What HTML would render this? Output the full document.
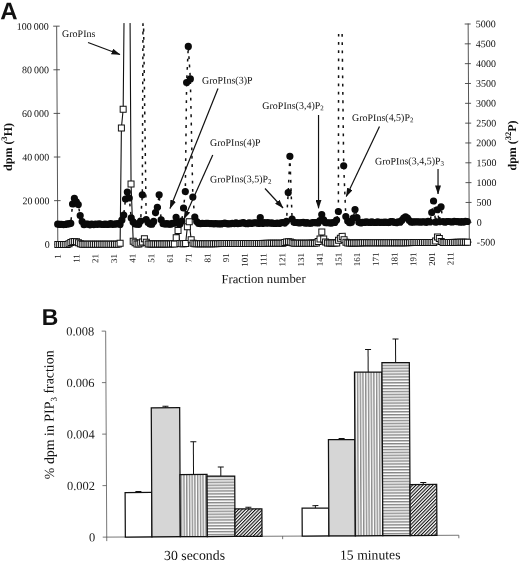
<!DOCTYPE html>
<html><head><meta charset="utf-8"><title>Figure</title>
<style>html,body{margin:0;padding:0;background:#fff}body{width:520px;height:563px;position:relative;overflow:hidden}</style>
</head><body>
<svg width="520" height="563" viewBox="0 0 520 563" style="position:absolute;left:0;top:0">
<defs>
<pattern id="pv" width="2.72" height="4" patternUnits="userSpaceOnUse"><rect width="2.72" height="4" fill="#fff"/><rect x="0.4" width="0.8" height="4" fill="#333"/></pattern>
<pattern id="ph" width="4" height="2.9" patternUnits="userSpaceOnUse"><rect width="4" height="2.9" fill="#fff"/><rect y="0.4" width="4" height="0.85" fill="#333"/></pattern>
<pattern id="pd" width="2.42" height="2.42" patternUnits="userSpaceOnUse" patternTransform="rotate(-45)"><rect width="2.42" height="2.42" fill="#fff"/><rect x="0" width="2.42" height="1.1" fill="#111"/></pattern>
<marker id="ah" markerWidth="9" markerHeight="6" refX="8.5" refY="3" orient="auto" markerUnits="userSpaceOnUse"><path d="M0,0 L9,3 L0,6 Z" fill="#111"/></marker>
</defs>
<rect width="520" height="563" fill="#fff"/>
<g transform="rotate(-0.3 260.0 281.0)">
<g stroke="#444" stroke-width="0.9" fill="none">
<line x1="58.0" y1="25.1" x2="58.0" y2="245.2"/>
<line x1="469.5" y1="24.6" x2="469.5" y2="243.2"/>
<line x1="54.5" y1="243.20" x2="61.0" y2="243.20"/>
<line x1="54.5" y1="199.58" x2="61.0" y2="199.58"/>
<line x1="54.5" y1="155.96" x2="61.0" y2="155.96"/>
<line x1="54.5" y1="112.34" x2="61.0" y2="112.34"/>
<line x1="54.5" y1="68.72" x2="61.0" y2="68.72"/>
<line x1="54.5" y1="25.10" x2="61.0" y2="25.10"/>
<line x1="466.0" y1="243.20" x2="472.0" y2="243.20"/>
<line x1="466.0" y1="223.37" x2="472.0" y2="223.37"/>
<line x1="466.0" y1="203.55" x2="472.0" y2="203.55"/>
<line x1="466.0" y1="183.72" x2="472.0" y2="183.72"/>
<line x1="466.0" y1="163.89" x2="472.0" y2="163.89"/>
<line x1="466.0" y1="144.06" x2="472.0" y2="144.06"/>
<line x1="466.0" y1="124.24" x2="472.0" y2="124.24"/>
<line x1="466.0" y1="104.41" x2="472.0" y2="104.41"/>
<line x1="466.0" y1="84.58" x2="472.0" y2="84.58"/>
<line x1="466.0" y1="64.75" x2="472.0" y2="64.75"/>
<line x1="466.0" y1="44.93" x2="472.0" y2="44.93"/>
<line x1="466.0" y1="25.10" x2="472.0" y2="25.10"/>
</g>
<polyline points="58.00,243.4 59.87,243.4 61.74,243.4 63.61,243.4 65.48,243.4 67.35,243.4 69.22,242.8 71.09,241.6 72.96,240.8 74.83,240.6 76.73,240.8 78.64,241.7 80.54,242.9 82.44,243.4 84.34,243.4 86.24,243.4 88.14,243.4 90.04,243.4 91.94,243.4 93.84,243.4 95.74,243.4 97.64,243.4 99.54,243.4 101.44,243.4 103.34,243.4 105.24,243.4 107.14,243.4 109.04,243.4 110.94,243.4 112.84,243.4 114.71,243.4 116.58,243.4 118.45,243.4 120.32,242.6 122.20,127.3 124.07,108.5 125.94,-17.7 127.81,-3000.6 129.68,-2500.6 131.55,183.3 133.42,240.6 135.29,242.1 137.16,243.4 139.03,243.4 140.90,242.4 142.77,241.4 144.64,238.2 146.51,241.6 148.38,243.4 150.25,243.4 152.12,243.4 153.99,243.4 155.86,243.4 157.73,243.4 159.60,243.4 161.47,243.4 163.35,243.4 165.22,243.4 167.09,243.4 168.96,243.4 170.83,243.4 172.70,243.4 174.57,243.6 176.44,237.2 178.31,230.1 180.18,243.1 182.05,243.4 183.92,243.4 185.79,243.2 187.66,226.4 189.53,221.4 191.40,239.4 193.27,243.0 195.14,243.4 197.01,243.4 198.88,243.4 200.75,243.4 202.62,243.4 204.50,243.4 206.37,243.4 208.24,243.4 210.11,243.4 211.98,243.4 213.85,243.4 215.72,243.4 217.59,243.4 219.46,243.4 221.33,243.4 223.20,243.4 225.07,243.4 226.94,243.4 228.81,243.4 230.68,243.4 232.55,243.4 234.42,243.4 236.29,243.4 238.16,243.4 240.03,243.4 241.90,243.4 243.77,243.4 245.65,243.4 247.52,243.4 249.39,243.4 251.26,243.4 253.13,243.4 255.00,243.4 256.87,243.4 258.74,243.4 260.61,243.4 262.48,243.4 264.35,243.4 266.22,243.4 268.09,243.4 269.96,243.4 271.83,243.4 273.70,243.4 275.57,243.4 277.44,243.4 279.31,243.4 281.18,243.4 283.05,243.4 284.93,242.7 286.80,242.1 288.67,242.0 290.54,242.2 292.41,242.9 294.28,243.4 296.15,243.4 298.02,243.4 299.89,243.4 301.74,243.4 303.59,243.4 305.44,243.4 307.29,243.4 309.14,243.4 310.99,243.4 312.84,243.4 314.69,243.4 316.54,243.4 318.39,241.9 320.24,239.3 322.09,232.3 323.94,239.3 325.79,242.3 327.65,243.4 329.50,243.4 331.35,243.4 333.20,243.4 335.05,243.4 336.90,243.4 338.75,240.6 340.60,238.6 342.45,236.8 344.30,240.2 346.15,242.8 348.00,243.4 349.85,243.4 351.70,243.4 353.55,243.4 355.40,243.4 357.27,243.4 359.14,243.4 361.01,243.4 362.88,243.4 364.75,243.4 366.62,243.4 368.50,243.4 370.37,243.4 372.24,243.4 374.11,243.4 375.98,243.4 377.85,243.4 379.72,243.4 381.59,243.4 383.46,243.4 385.33,243.4 387.20,243.4 389.07,243.4 390.94,243.4 392.81,243.4 394.68,243.4 396.55,243.4 398.42,243.4 400.29,243.4 402.16,243.4 404.03,243.4 405.90,243.4 407.77,243.4 409.65,243.4 411.52,243.4 413.39,243.4 415.26,243.4 417.13,243.4 419.00,243.4 420.87,243.4 422.74,243.4 424.61,243.4 426.48,243.4 428.35,243.4 430.22,243.4 432.09,243.4 433.96,243.4 435.83,241.9 437.70,237.9 439.57,239.4 441.44,242.5 443.31,243.4 445.18,243.4 447.05,243.4 448.92,243.4 450.80,243.4 452.67,243.4 454.54,243.4 456.41,243.4 458.28,243.4 460.15,243.4 462.02,243.4 463.89,243.4 465.76,243.4 467.63,243.4" fill="none" stroke="#111" stroke-width="1.1"/>
<polyline points="58.00,223.1 59.87,223.4 61.74,223.2 63.61,223.5 65.48,223.5 67.35,222.9 69.22,222.8 71.09,222.3 72.96,203.0 74.83,197.5 76.73,201.0 78.64,203.6 80.54,214.6 82.44,220.6 84.34,223.7 86.24,223.1 88.14,223.1 90.04,223.9 91.94,223.3 93.84,223.7 95.74,223.3 97.64,223.5 99.54,223.0 101.44,223.5 103.34,223.7 105.24,223.4 107.14,223.6 109.04,223.5 110.94,222.8 112.84,223.6 114.71,223.4 116.58,223.1 118.45,222.8 120.32,223.7 122.20,219.3 124.07,214.3 125.94,198.3 127.81,191.3 129.68,197.3 131.55,217.3 133.42,221.3 135.29,223.3 137.16,223.5 139.03,223.7 140.90,220.4 142.77,194.2 144.64,-10.6 146.51,219.0 148.38,221.9 150.25,223.5 152.12,223.7 153.99,220.9 155.86,212.0 157.73,206.8 159.60,194.3 161.47,219.3 163.35,223.1 165.22,223.6 167.09,223.2 168.96,223.7 170.83,223.7 172.70,222.8 174.57,222.8 176.44,216.9 178.31,222.9 180.18,223.7 182.05,220.6 183.92,207.6 185.79,191.2 187.66,82.1 189.53,46.1 191.40,78.6 193.27,196.7 195.14,216.7 197.01,221.2 198.88,223.1 200.75,223.3 202.62,223.0 204.50,223.2 206.37,223.1 208.24,223.0 210.11,223.3 211.98,223.3 213.85,223.6 215.72,223.4 217.59,223.6 219.46,223.6 221.33,223.7 223.20,223.3 225.07,222.8 226.94,223.5 228.81,223.7 230.68,223.6 232.55,223.2 234.42,223.4 236.29,222.8 238.16,223.5 240.03,223.2 241.90,222.9 243.77,222.6 245.65,223.5 247.52,223.7 249.39,222.7 251.26,223.4 253.13,223.0 255.00,222.7 256.87,222.9 258.74,223.4 260.61,217.5 262.48,223.5 264.35,222.6 266.22,223.2 268.09,222.6 269.96,223.3 271.83,222.9 273.70,223.5 275.57,223.6 277.44,223.1 279.31,223.6 281.18,222.9 283.05,222.6 284.93,223.2 286.80,221.4 288.67,192.7 290.54,156.5 292.41,219.2 294.28,222.5 296.15,222.7 298.02,222.9 299.89,223.2 301.74,222.7 303.59,222.5 305.44,223.4 307.29,222.8 309.14,223.5 310.99,223.5 312.84,222.9 314.69,223.0 316.54,223.0 318.39,223.2 320.24,220.8 322.09,214.9 323.94,220.3 325.79,223.1 327.65,223.1 329.50,223.1 331.35,223.5 333.20,223.0 335.05,222.9 336.90,220.4 338.75,211.9 340.60,-67.6 342.45,-109.6 344.30,166.2 346.15,217.0 348.00,221.5 349.85,223.2 351.70,222.7 353.55,218.5 355.40,210.0 357.27,218.0 359.14,222.7 361.01,223.5 362.88,223.0 364.75,223.0 366.62,222.4 368.50,222.9 370.37,223.0 372.24,222.4 374.11,223.1 375.98,223.1 377.85,222.4 379.72,223.1 381.59,222.9 383.46,223.1 385.33,222.8 387.20,223.1 389.07,223.2 390.94,222.4 392.81,222.4 394.68,223.1 396.55,223.4 398.42,222.6 400.29,222.9 402.16,221.0 404.03,218.8 405.90,217.6 407.77,218.8 409.65,221.3 411.52,223.0 413.39,222.7 415.26,222.7 417.13,222.7 419.00,222.7 420.87,223.0 422.74,222.6 424.61,222.7 426.48,223.2 428.35,222.3 430.22,222.9 432.09,213.4 433.96,201.9 435.83,223.1 437.70,210.7 439.57,222.6 441.44,207.8 443.31,222.5 445.18,223.2 447.05,222.5 448.92,222.5 450.80,222.8 452.67,223.0 454.54,222.4 456.41,222.6 458.28,222.6 460.15,223.2 462.02,222.7 463.89,223.2 465.76,222.4 467.63,222.6" fill="none" stroke="#111" stroke-width="1.5" stroke-dasharray="2.8 5.5"/>
<g fill="#fff" stroke="#111" stroke-width="1">
<rect x="55.00" y="240.4" width="6" height="6"/>
<rect x="56.87" y="240.4" width="6" height="6"/>
<rect x="58.74" y="240.4" width="6" height="6"/>
<rect x="60.61" y="240.4" width="6" height="6"/>
<rect x="62.48" y="240.4" width="6" height="6"/>
<rect x="64.35" y="240.4" width="6" height="6"/>
<rect x="66.22" y="239.8" width="6" height="6"/>
<rect x="68.09" y="238.6" width="6" height="6"/>
<rect x="69.96" y="237.8" width="6" height="6"/>
<rect x="71.83" y="237.6" width="6" height="6"/>
<rect x="73.73" y="237.8" width="6" height="6"/>
<rect x="75.64" y="238.7" width="6" height="6"/>
<rect x="77.54" y="239.9" width="6" height="6"/>
<rect x="79.44" y="240.4" width="6" height="6"/>
<rect x="81.34" y="240.4" width="6" height="6"/>
<rect x="83.24" y="240.4" width="6" height="6"/>
<rect x="85.14" y="240.4" width="6" height="6"/>
<rect x="87.04" y="240.4" width="6" height="6"/>
<rect x="88.94" y="240.4" width="6" height="6"/>
<rect x="90.84" y="240.4" width="6" height="6"/>
<rect x="92.74" y="240.4" width="6" height="6"/>
<rect x="94.64" y="240.4" width="6" height="6"/>
<rect x="96.54" y="240.4" width="6" height="6"/>
<rect x="98.44" y="240.4" width="6" height="6"/>
<rect x="100.34" y="240.4" width="6" height="6"/>
<rect x="102.24" y="240.4" width="6" height="6"/>
<rect x="104.14" y="240.4" width="6" height="6"/>
<rect x="106.04" y="240.4" width="6" height="6"/>
<rect x="107.94" y="240.4" width="6" height="6"/>
<rect x="109.84" y="240.4" width="6" height="6"/>
<rect x="111.71" y="240.4" width="6" height="6"/>
<rect x="113.58" y="240.4" width="6" height="6"/>
<rect x="115.45" y="240.4" width="6" height="6"/>
<rect x="117.32" y="239.6" width="6" height="6"/>
<rect x="119.20" y="124.3" width="6" height="6"/>
<rect x="121.07" y="105.5" width="6" height="6"/>
<rect x="128.55" y="180.3" width="6" height="6"/>
<rect x="130.42" y="237.6" width="6" height="6"/>
<rect x="132.29" y="239.1" width="6" height="6"/>
<rect x="134.16" y="240.4" width="6" height="6"/>
<rect x="136.03" y="240.4" width="6" height="6"/>
<rect x="137.90" y="239.4" width="6" height="6"/>
<rect x="139.77" y="238.4" width="6" height="6"/>
<rect x="141.64" y="235.2" width="6" height="6"/>
<rect x="143.51" y="238.6" width="6" height="6"/>
<rect x="145.38" y="240.4" width="6" height="6"/>
<rect x="147.25" y="240.4" width="6" height="6"/>
<rect x="149.12" y="240.4" width="6" height="6"/>
<rect x="150.99" y="240.4" width="6" height="6"/>
<rect x="152.86" y="240.4" width="6" height="6"/>
<rect x="154.73" y="240.4" width="6" height="6"/>
<rect x="156.60" y="240.4" width="6" height="6"/>
<rect x="158.47" y="240.4" width="6" height="6"/>
<rect x="160.35" y="240.4" width="6" height="6"/>
<rect x="162.22" y="240.4" width="6" height="6"/>
<rect x="164.09" y="240.4" width="6" height="6"/>
<rect x="165.96" y="240.4" width="6" height="6"/>
<rect x="167.83" y="240.4" width="6" height="6"/>
<rect x="169.70" y="240.4" width="6" height="6"/>
<rect x="171.57" y="240.6" width="6" height="6"/>
<rect x="173.44" y="234.2" width="6" height="6"/>
<rect x="175.31" y="227.1" width="6" height="6"/>
<rect x="177.18" y="240.1" width="6" height="6"/>
<rect x="179.05" y="240.4" width="6" height="6"/>
<rect x="180.92" y="240.4" width="6" height="6"/>
<rect x="182.79" y="240.2" width="6" height="6"/>
<rect x="184.66" y="223.4" width="6" height="6"/>
<rect x="186.53" y="218.4" width="6" height="6"/>
<rect x="188.40" y="236.4" width="6" height="6"/>
<rect x="190.27" y="240.0" width="6" height="6"/>
<rect x="192.14" y="240.4" width="6" height="6"/>
<rect x="194.01" y="240.4" width="6" height="6"/>
<rect x="195.88" y="240.4" width="6" height="6"/>
<rect x="197.75" y="240.4" width="6" height="6"/>
<rect x="199.62" y="240.4" width="6" height="6"/>
<rect x="201.50" y="240.4" width="6" height="6"/>
<rect x="203.37" y="240.4" width="6" height="6"/>
<rect x="205.24" y="240.4" width="6" height="6"/>
<rect x="207.11" y="240.4" width="6" height="6"/>
<rect x="208.98" y="240.4" width="6" height="6"/>
<rect x="210.85" y="240.4" width="6" height="6"/>
<rect x="212.72" y="240.4" width="6" height="6"/>
<rect x="214.59" y="240.4" width="6" height="6"/>
<rect x="216.46" y="240.4" width="6" height="6"/>
<rect x="218.33" y="240.4" width="6" height="6"/>
<rect x="220.20" y="240.4" width="6" height="6"/>
<rect x="222.07" y="240.4" width="6" height="6"/>
<rect x="223.94" y="240.4" width="6" height="6"/>
<rect x="225.81" y="240.4" width="6" height="6"/>
<rect x="227.68" y="240.4" width="6" height="6"/>
<rect x="229.55" y="240.4" width="6" height="6"/>
<rect x="231.42" y="240.4" width="6" height="6"/>
<rect x="233.29" y="240.4" width="6" height="6"/>
<rect x="235.16" y="240.4" width="6" height="6"/>
<rect x="237.03" y="240.4" width="6" height="6"/>
<rect x="238.90" y="240.4" width="6" height="6"/>
<rect x="240.77" y="240.4" width="6" height="6"/>
<rect x="242.65" y="240.4" width="6" height="6"/>
<rect x="244.52" y="240.4" width="6" height="6"/>
<rect x="246.39" y="240.4" width="6" height="6"/>
<rect x="248.26" y="240.4" width="6" height="6"/>
<rect x="250.13" y="240.4" width="6" height="6"/>
<rect x="252.00" y="240.4" width="6" height="6"/>
<rect x="253.87" y="240.4" width="6" height="6"/>
<rect x="255.74" y="240.4" width="6" height="6"/>
<rect x="257.61" y="240.4" width="6" height="6"/>
<rect x="259.48" y="240.4" width="6" height="6"/>
<rect x="261.35" y="240.4" width="6" height="6"/>
<rect x="263.22" y="240.4" width="6" height="6"/>
<rect x="265.09" y="240.4" width="6" height="6"/>
<rect x="266.96" y="240.4" width="6" height="6"/>
<rect x="268.83" y="240.4" width="6" height="6"/>
<rect x="270.70" y="240.4" width="6" height="6"/>
<rect x="272.57" y="240.4" width="6" height="6"/>
<rect x="274.44" y="240.4" width="6" height="6"/>
<rect x="276.31" y="240.4" width="6" height="6"/>
<rect x="278.18" y="240.4" width="6" height="6"/>
<rect x="280.05" y="240.4" width="6" height="6"/>
<rect x="281.93" y="239.7" width="6" height="6"/>
<rect x="283.80" y="239.1" width="6" height="6"/>
<rect x="285.67" y="239.0" width="6" height="6"/>
<rect x="287.54" y="239.2" width="6" height="6"/>
<rect x="289.41" y="239.9" width="6" height="6"/>
<rect x="291.28" y="240.4" width="6" height="6"/>
<rect x="293.15" y="240.4" width="6" height="6"/>
<rect x="295.02" y="240.4" width="6" height="6"/>
<rect x="296.89" y="240.4" width="6" height="6"/>
<rect x="298.74" y="240.4" width="6" height="6"/>
<rect x="300.59" y="240.4" width="6" height="6"/>
<rect x="302.44" y="240.4" width="6" height="6"/>
<rect x="304.29" y="240.4" width="6" height="6"/>
<rect x="306.14" y="240.4" width="6" height="6"/>
<rect x="307.99" y="240.4" width="6" height="6"/>
<rect x="309.84" y="240.4" width="6" height="6"/>
<rect x="311.69" y="240.4" width="6" height="6"/>
<rect x="313.54" y="240.4" width="6" height="6"/>
<rect x="315.39" y="238.9" width="6" height="6"/>
<rect x="317.24" y="236.3" width="6" height="6"/>
<rect x="319.09" y="229.3" width="6" height="6"/>
<rect x="320.94" y="236.3" width="6" height="6"/>
<rect x="322.79" y="239.3" width="6" height="6"/>
<rect x="324.65" y="240.4" width="6" height="6"/>
<rect x="326.50" y="240.4" width="6" height="6"/>
<rect x="328.35" y="240.4" width="6" height="6"/>
<rect x="330.20" y="240.4" width="6" height="6"/>
<rect x="332.05" y="240.4" width="6" height="6"/>
<rect x="333.90" y="240.4" width="6" height="6"/>
<rect x="335.75" y="237.6" width="6" height="6"/>
<rect x="337.60" y="235.6" width="6" height="6"/>
<rect x="339.45" y="233.8" width="6" height="6"/>
<rect x="341.30" y="237.2" width="6" height="6"/>
<rect x="343.15" y="239.8" width="6" height="6"/>
<rect x="345.00" y="240.4" width="6" height="6"/>
<rect x="346.85" y="240.4" width="6" height="6"/>
<rect x="348.70" y="240.4" width="6" height="6"/>
<rect x="350.55" y="240.4" width="6" height="6"/>
<rect x="352.40" y="240.4" width="6" height="6"/>
<rect x="354.27" y="240.4" width="6" height="6"/>
<rect x="356.14" y="240.4" width="6" height="6"/>
<rect x="358.01" y="240.4" width="6" height="6"/>
<rect x="359.88" y="240.4" width="6" height="6"/>
<rect x="361.75" y="240.4" width="6" height="6"/>
<rect x="363.62" y="240.4" width="6" height="6"/>
<rect x="365.50" y="240.4" width="6" height="6"/>
<rect x="367.37" y="240.4" width="6" height="6"/>
<rect x="369.24" y="240.4" width="6" height="6"/>
<rect x="371.11" y="240.4" width="6" height="6"/>
<rect x="372.98" y="240.4" width="6" height="6"/>
<rect x="374.85" y="240.4" width="6" height="6"/>
<rect x="376.72" y="240.4" width="6" height="6"/>
<rect x="378.59" y="240.4" width="6" height="6"/>
<rect x="380.46" y="240.4" width="6" height="6"/>
<rect x="382.33" y="240.4" width="6" height="6"/>
<rect x="384.20" y="240.4" width="6" height="6"/>
<rect x="386.07" y="240.4" width="6" height="6"/>
<rect x="387.94" y="240.4" width="6" height="6"/>
<rect x="389.81" y="240.4" width="6" height="6"/>
<rect x="391.68" y="240.4" width="6" height="6"/>
<rect x="393.55" y="240.4" width="6" height="6"/>
<rect x="395.42" y="240.4" width="6" height="6"/>
<rect x="397.29" y="240.4" width="6" height="6"/>
<rect x="399.16" y="240.4" width="6" height="6"/>
<rect x="401.03" y="240.4" width="6" height="6"/>
<rect x="402.90" y="240.4" width="6" height="6"/>
<rect x="404.77" y="240.4" width="6" height="6"/>
<rect x="406.65" y="240.4" width="6" height="6"/>
<rect x="408.52" y="240.4" width="6" height="6"/>
<rect x="410.39" y="240.4" width="6" height="6"/>
<rect x="412.26" y="240.4" width="6" height="6"/>
<rect x="414.13" y="240.4" width="6" height="6"/>
<rect x="416.00" y="240.4" width="6" height="6"/>
<rect x="417.87" y="240.4" width="6" height="6"/>
<rect x="419.74" y="240.4" width="6" height="6"/>
<rect x="421.61" y="240.4" width="6" height="6"/>
<rect x="423.48" y="240.4" width="6" height="6"/>
<rect x="425.35" y="240.4" width="6" height="6"/>
<rect x="427.22" y="240.4" width="6" height="6"/>
<rect x="429.09" y="240.4" width="6" height="6"/>
<rect x="430.96" y="240.4" width="6" height="6"/>
<rect x="432.83" y="238.9" width="6" height="6"/>
<rect x="434.70" y="234.9" width="6" height="6"/>
<rect x="436.57" y="236.4" width="6" height="6"/>
<rect x="438.44" y="239.5" width="6" height="6"/>
<rect x="440.31" y="240.4" width="6" height="6"/>
<rect x="442.18" y="240.4" width="6" height="6"/>
<rect x="444.05" y="240.4" width="6" height="6"/>
<rect x="445.92" y="240.4" width="6" height="6"/>
<rect x="447.80" y="240.4" width="6" height="6"/>
<rect x="449.67" y="240.4" width="6" height="6"/>
<rect x="451.54" y="240.4" width="6" height="6"/>
<rect x="453.41" y="240.4" width="6" height="6"/>
<rect x="455.28" y="240.4" width="6" height="6"/>
<rect x="457.15" y="240.4" width="6" height="6"/>
<rect x="459.02" y="240.4" width="6" height="6"/>
<rect x="460.89" y="240.4" width="6" height="6"/>
<rect x="462.76" y="240.4" width="6" height="6"/>
<rect x="464.63" y="240.4" width="6" height="6"/>
</g>
<g fill="#0a0a0a">
<circle cx="58.00" cy="223.1" r="3.6"/>
<circle cx="59.87" cy="223.4" r="3.6"/>
<circle cx="61.74" cy="223.2" r="3.6"/>
<circle cx="63.61" cy="223.5" r="3.6"/>
<circle cx="65.48" cy="223.5" r="3.6"/>
<circle cx="67.35" cy="222.9" r="3.6"/>
<circle cx="69.22" cy="222.8" r="3.6"/>
<circle cx="71.09" cy="222.3" r="3.6"/>
<circle cx="72.96" cy="203.0" r="3.6"/>
<circle cx="74.83" cy="197.5" r="3.6"/>
<circle cx="76.73" cy="201.0" r="3.6"/>
<circle cx="78.64" cy="203.6" r="3.6"/>
<circle cx="80.54" cy="214.6" r="3.6"/>
<circle cx="82.44" cy="220.6" r="3.6"/>
<circle cx="84.34" cy="223.7" r="3.6"/>
<circle cx="86.24" cy="223.1" r="3.6"/>
<circle cx="88.14" cy="223.1" r="3.6"/>
<circle cx="90.04" cy="223.9" r="3.6"/>
<circle cx="91.94" cy="223.3" r="3.6"/>
<circle cx="93.84" cy="223.7" r="3.6"/>
<circle cx="95.74" cy="223.3" r="3.6"/>
<circle cx="97.64" cy="223.5" r="3.6"/>
<circle cx="99.54" cy="223.0" r="3.6"/>
<circle cx="101.44" cy="223.5" r="3.6"/>
<circle cx="103.34" cy="223.7" r="3.6"/>
<circle cx="105.24" cy="223.4" r="3.6"/>
<circle cx="107.14" cy="223.6" r="3.6"/>
<circle cx="109.04" cy="223.5" r="3.6"/>
<circle cx="110.94" cy="222.8" r="3.6"/>
<circle cx="112.84" cy="223.6" r="3.6"/>
<circle cx="114.71" cy="223.4" r="3.6"/>
<circle cx="116.58" cy="223.1" r="3.6"/>
<circle cx="118.45" cy="222.8" r="3.6"/>
<circle cx="120.32" cy="223.7" r="3.6"/>
<circle cx="122.20" cy="219.3" r="3.6"/>
<circle cx="124.07" cy="214.3" r="3.6"/>
<circle cx="125.94" cy="198.3" r="3.6"/>
<circle cx="127.81" cy="191.3" r="3.6"/>
<circle cx="129.68" cy="197.3" r="3.6"/>
<circle cx="131.55" cy="217.3" r="3.6"/>
<circle cx="133.42" cy="221.3" r="3.6"/>
<circle cx="135.29" cy="223.3" r="3.6"/>
<circle cx="137.16" cy="223.5" r="3.6"/>
<circle cx="139.03" cy="223.7" r="3.6"/>
<circle cx="140.90" cy="220.4" r="3.6"/>
<circle cx="142.77" cy="194.2" r="3.6"/>
<circle cx="146.51" cy="219.0" r="3.6"/>
<circle cx="148.38" cy="221.9" r="3.6"/>
<circle cx="150.25" cy="223.5" r="3.6"/>
<circle cx="152.12" cy="223.7" r="3.6"/>
<circle cx="153.99" cy="220.9" r="3.6"/>
<circle cx="155.86" cy="212.0" r="3.6"/>
<circle cx="157.73" cy="206.8" r="3.6"/>
<circle cx="159.60" cy="194.3" r="3.6"/>
<circle cx="161.47" cy="219.3" r="3.6"/>
<circle cx="163.35" cy="223.1" r="3.6"/>
<circle cx="165.22" cy="223.6" r="3.6"/>
<circle cx="167.09" cy="223.2" r="3.6"/>
<circle cx="168.96" cy="223.7" r="3.6"/>
<circle cx="170.83" cy="223.7" r="3.6"/>
<circle cx="172.70" cy="222.8" r="3.6"/>
<circle cx="174.57" cy="222.8" r="3.6"/>
<circle cx="176.44" cy="216.9" r="3.6"/>
<circle cx="178.31" cy="222.9" r="3.6"/>
<circle cx="180.18" cy="223.7" r="3.6"/>
<circle cx="182.05" cy="220.6" r="3.6"/>
<circle cx="183.92" cy="207.6" r="3.6"/>
<circle cx="185.79" cy="191.2" r="3.6"/>
<circle cx="187.66" cy="82.1" r="3.6"/>
<circle cx="189.53" cy="46.1" r="3.6"/>
<circle cx="191.40" cy="78.6" r="3.6"/>
<circle cx="193.27" cy="196.7" r="3.6"/>
<circle cx="195.14" cy="216.7" r="3.6"/>
<circle cx="197.01" cy="221.2" r="3.6"/>
<circle cx="198.88" cy="223.1" r="3.6"/>
<circle cx="200.75" cy="223.3" r="3.6"/>
<circle cx="202.62" cy="223.0" r="3.6"/>
<circle cx="204.50" cy="223.2" r="3.6"/>
<circle cx="206.37" cy="223.1" r="3.6"/>
<circle cx="208.24" cy="223.0" r="3.6"/>
<circle cx="210.11" cy="223.3" r="3.6"/>
<circle cx="211.98" cy="223.3" r="3.6"/>
<circle cx="213.85" cy="223.6" r="3.6"/>
<circle cx="215.72" cy="223.4" r="3.6"/>
<circle cx="217.59" cy="223.6" r="3.6"/>
<circle cx="219.46" cy="223.6" r="3.6"/>
<circle cx="221.33" cy="223.7" r="3.6"/>
<circle cx="223.20" cy="223.3" r="3.6"/>
<circle cx="225.07" cy="222.8" r="3.6"/>
<circle cx="226.94" cy="223.5" r="3.6"/>
<circle cx="228.81" cy="223.7" r="3.6"/>
<circle cx="230.68" cy="223.6" r="3.6"/>
<circle cx="232.55" cy="223.2" r="3.6"/>
<circle cx="234.42" cy="223.4" r="3.6"/>
<circle cx="236.29" cy="222.8" r="3.6"/>
<circle cx="238.16" cy="223.5" r="3.6"/>
<circle cx="240.03" cy="223.2" r="3.6"/>
<circle cx="241.90" cy="222.9" r="3.6"/>
<circle cx="243.77" cy="222.6" r="3.6"/>
<circle cx="245.65" cy="223.5" r="3.6"/>
<circle cx="247.52" cy="223.7" r="3.6"/>
<circle cx="249.39" cy="222.7" r="3.6"/>
<circle cx="251.26" cy="223.4" r="3.6"/>
<circle cx="253.13" cy="223.0" r="3.6"/>
<circle cx="255.00" cy="222.7" r="3.6"/>
<circle cx="256.87" cy="222.9" r="3.6"/>
<circle cx="258.74" cy="223.4" r="3.6"/>
<circle cx="260.61" cy="217.5" r="3.6"/>
<circle cx="262.48" cy="223.5" r="3.6"/>
<circle cx="264.35" cy="222.6" r="3.6"/>
<circle cx="266.22" cy="223.2" r="3.6"/>
<circle cx="268.09" cy="222.6" r="3.6"/>
<circle cx="269.96" cy="223.3" r="3.6"/>
<circle cx="271.83" cy="222.9" r="3.6"/>
<circle cx="273.70" cy="223.5" r="3.6"/>
<circle cx="275.57" cy="223.6" r="3.6"/>
<circle cx="277.44" cy="223.1" r="3.6"/>
<circle cx="279.31" cy="223.6" r="3.6"/>
<circle cx="281.18" cy="222.9" r="3.6"/>
<circle cx="283.05" cy="222.6" r="3.6"/>
<circle cx="284.93" cy="223.2" r="3.6"/>
<circle cx="286.80" cy="221.4" r="3.6"/>
<circle cx="288.67" cy="192.7" r="3.6"/>
<circle cx="290.54" cy="156.5" r="3.6"/>
<circle cx="292.41" cy="219.2" r="3.6"/>
<circle cx="294.28" cy="222.5" r="3.6"/>
<circle cx="296.15" cy="222.7" r="3.6"/>
<circle cx="298.02" cy="222.9" r="3.6"/>
<circle cx="299.89" cy="223.2" r="3.6"/>
<circle cx="301.74" cy="222.7" r="3.6"/>
<circle cx="303.59" cy="222.5" r="3.6"/>
<circle cx="305.44" cy="223.4" r="3.6"/>
<circle cx="307.29" cy="222.8" r="3.6"/>
<circle cx="309.14" cy="223.5" r="3.6"/>
<circle cx="310.99" cy="223.5" r="3.6"/>
<circle cx="312.84" cy="222.9" r="3.6"/>
<circle cx="314.69" cy="223.0" r="3.6"/>
<circle cx="316.54" cy="223.0" r="3.6"/>
<circle cx="318.39" cy="223.2" r="3.6"/>
<circle cx="320.24" cy="220.8" r="3.6"/>
<circle cx="322.09" cy="214.9" r="3.6"/>
<circle cx="323.94" cy="220.3" r="3.6"/>
<circle cx="325.79" cy="223.1" r="3.6"/>
<circle cx="327.65" cy="223.1" r="3.6"/>
<circle cx="329.50" cy="223.1" r="3.6"/>
<circle cx="331.35" cy="223.5" r="3.6"/>
<circle cx="333.20" cy="223.0" r="3.6"/>
<circle cx="335.05" cy="222.9" r="3.6"/>
<circle cx="336.90" cy="220.4" r="3.6"/>
<circle cx="338.75" cy="211.9" r="3.6"/>
<circle cx="344.30" cy="166.2" r="3.6"/>
<circle cx="346.15" cy="217.0" r="3.6"/>
<circle cx="348.00" cy="221.5" r="3.6"/>
<circle cx="349.85" cy="223.2" r="3.6"/>
<circle cx="351.70" cy="222.7" r="3.6"/>
<circle cx="353.55" cy="218.5" r="3.6"/>
<circle cx="355.40" cy="210.0" r="3.6"/>
<circle cx="357.27" cy="218.0" r="3.6"/>
<circle cx="359.14" cy="222.7" r="3.6"/>
<circle cx="361.01" cy="223.5" r="3.6"/>
<circle cx="362.88" cy="223.0" r="3.6"/>
<circle cx="364.75" cy="223.0" r="3.6"/>
<circle cx="366.62" cy="222.4" r="3.6"/>
<circle cx="368.50" cy="222.9" r="3.6"/>
<circle cx="370.37" cy="223.0" r="3.6"/>
<circle cx="372.24" cy="222.4" r="3.6"/>
<circle cx="374.11" cy="223.1" r="3.6"/>
<circle cx="375.98" cy="223.1" r="3.6"/>
<circle cx="377.85" cy="222.4" r="3.6"/>
<circle cx="379.72" cy="223.1" r="3.6"/>
<circle cx="381.59" cy="222.9" r="3.6"/>
<circle cx="383.46" cy="223.1" r="3.6"/>
<circle cx="385.33" cy="222.8" r="3.6"/>
<circle cx="387.20" cy="223.1" r="3.6"/>
<circle cx="389.07" cy="223.2" r="3.6"/>
<circle cx="390.94" cy="222.4" r="3.6"/>
<circle cx="392.81" cy="222.4" r="3.6"/>
<circle cx="394.68" cy="223.1" r="3.6"/>
<circle cx="396.55" cy="223.4" r="3.6"/>
<circle cx="398.42" cy="222.6" r="3.6"/>
<circle cx="400.29" cy="222.9" r="3.6"/>
<circle cx="402.16" cy="221.0" r="3.6"/>
<circle cx="404.03" cy="218.8" r="3.6"/>
<circle cx="405.90" cy="217.6" r="3.6"/>
<circle cx="407.77" cy="218.8" r="3.6"/>
<circle cx="409.65" cy="221.3" r="3.6"/>
<circle cx="411.52" cy="223.0" r="3.6"/>
<circle cx="413.39" cy="222.7" r="3.6"/>
<circle cx="415.26" cy="222.7" r="3.6"/>
<circle cx="417.13" cy="222.7" r="3.6"/>
<circle cx="419.00" cy="222.7" r="3.6"/>
<circle cx="420.87" cy="223.0" r="3.6"/>
<circle cx="422.74" cy="222.6" r="3.6"/>
<circle cx="424.61" cy="222.7" r="3.6"/>
<circle cx="426.48" cy="223.2" r="3.6"/>
<circle cx="428.35" cy="222.3" r="3.6"/>
<circle cx="430.22" cy="222.9" r="3.6"/>
<circle cx="432.09" cy="213.4" r="3.6"/>
<circle cx="433.96" cy="201.9" r="3.6"/>
<circle cx="435.83" cy="223.1" r="3.6"/>
<circle cx="437.70" cy="210.7" r="3.6"/>
<circle cx="439.57" cy="222.6" r="3.6"/>
<circle cx="441.44" cy="207.8" r="3.6"/>
<circle cx="443.31" cy="222.5" r="3.6"/>
<circle cx="445.18" cy="223.2" r="3.6"/>
<circle cx="447.05" cy="222.5" r="3.6"/>
<circle cx="448.92" cy="222.5" r="3.6"/>
<circle cx="450.80" cy="222.8" r="3.6"/>
<circle cx="452.67" cy="223.0" r="3.6"/>
<circle cx="454.54" cy="222.4" r="3.6"/>
<circle cx="456.41" cy="222.6" r="3.6"/>
<circle cx="458.28" cy="222.6" r="3.6"/>
<circle cx="460.15" cy="223.2" r="3.6"/>
<circle cx="462.02" cy="222.7" r="3.6"/>
<circle cx="463.89" cy="223.2" r="3.6"/>
<circle cx="465.76" cy="222.4" r="3.6"/>
<circle cx="467.63" cy="222.6" r="3.6"/>
</g>
<rect x="100" y="-10" width="300" height="32.3" fill="#fff"/>
<rect x="334" y="20" width="16" height="14.5" fill="#fff"/>
<g stroke="#111" stroke-width="1.2" fill="none">
<line x1="89.3" y1="41.6" x2="121.2" y2="53.8" marker-end="url(#ah)"/>
<line x1="219.0" y1="88.3" x2="170.4" y2="208.0" marker-end="url(#ah)"/>
<line x1="213.4" y1="154.8" x2="184.3" y2="218.6" marker-end="url(#ah)"/>
<line x1="265.5" y1="188.5" x2="283.4" y2="208.1" marker-end="url(#ah)"/>
<line x1="319.4" y1="115.3" x2="318.9" y2="208.6" marker-end="url(#ah)"/>
<line x1="380.3" y1="127.1" x2="346.7" y2="197.0" marker-end="url(#ah)"/>
<line x1="438.6" y1="169.9" x2="438.5" y2="194.9" marker-end="url(#ah)"/>
</g>
<g font-family="Liberation Serif, serif" font-size="10" fill="#111">
<text x="63.3" y="36.0" >GroPIns</text>
<text x="203.0" y="83.4" >GroPIns(3)P</text>
<text x="210.7" y="145.7" >GroPIns(4)P</text>
<text x="210.5" y="182.2" >GroPIns(3,5)P<tspan font-size="7" dy="1.5">2</tspan></text>
<text x="263.2" y="109.0" >GroPIns(3,4)P<tspan font-size="7" dy="1.5">2</tspan></text>
<text x="352.8" y="121.5" >GroPIns(4,5)P<tspan font-size="7" dy="1.5">2</tspan></text>
<text x="375.6" y="165.1" >GroPIns(3,4,5)P<tspan font-size="7" dy="1.5">3</tspan></text>
</g>
<g font-family="Liberation Serif, serif" font-size="10" fill="#111" text-anchor="end">
<text x="50" y="246.6">0</text>
<text x="50" y="203.0">20 000</text>
<text x="50" y="159.4">40 000</text>
<text x="50" y="115.7">60 000</text>
<text x="50" y="72.1">80 000</text>
<text x="50" y="28.5">100 000</text>
</g>
<g font-family="Liberation Serif, serif" font-size="10" fill="#111">
<text x="477" y="246.6">-500</text>
<text x="477" y="226.8">0</text>
<text x="477" y="206.9">500</text>
<text x="477" y="187.1">1000</text>
<text x="477" y="167.3">1500</text>
<text x="477" y="147.5">2000</text>
<text x="477" y="127.6">2500</text>
<text x="477" y="107.8">3000</text>
<text x="477" y="88.0">3500</text>
<text x="477" y="68.2">4000</text>
<text x="477" y="48.3">4500</text>
<text x="477" y="28.5">5000</text>
</g>
<g font-family="Liberation Serif, serif" font-size="9" fill="#111" text-anchor="end">
<text transform="translate(60.9,253.2) rotate(-90)">1</text>
<text transform="translate(79.6,253.2) rotate(-90)">11</text>
<text transform="translate(98.3,253.2) rotate(-90)">21</text>
<text transform="translate(117.0,253.2) rotate(-90)">31</text>
<text transform="translate(135.7,253.2) rotate(-90)">41</text>
<text transform="translate(154.4,253.2) rotate(-90)">51</text>
<text transform="translate(173.1,253.2) rotate(-90)">61</text>
<text transform="translate(191.8,253.2) rotate(-90)">71</text>
<text transform="translate(210.5,253.2) rotate(-90)">81</text>
<text transform="translate(229.2,253.2) rotate(-90)">91</text>
<text transform="translate(247.9,253.2) rotate(-90)">101</text>
<text transform="translate(266.6,253.2) rotate(-90)">111</text>
<text transform="translate(285.4,253.2) rotate(-90)">121</text>
<text transform="translate(304.1,253.2) rotate(-90)">131</text>
<text transform="translate(322.8,253.2) rotate(-90)">141</text>
<text transform="translate(341.5,253.2) rotate(-90)">151</text>
<text transform="translate(360.2,253.2) rotate(-90)">161</text>
<text transform="translate(378.9,253.2) rotate(-90)">171</text>
<text transform="translate(397.6,253.2) rotate(-90)">181</text>
<text transform="translate(416.3,253.2) rotate(-90)">191</text>
<text transform="translate(435.0,253.2) rotate(-90)">201</text>
<text transform="translate(453.7,253.2) rotate(-90)">211</text>
</g>
<text font-family="Liberation Serif, serif" font-size="12.7" fill="#111" x="263.5" y="283.0" text-anchor="middle">Fraction number</text>
<text font-family="Liberation Serif, serif" font-size="12" font-weight="bold" fill="#111" text-anchor="middle" transform="translate(12.7,145.7) rotate(-90)">dpm (<tspan font-size="8.5" dy="-5">3</tspan><tspan dy="5">H)</tspan></text>
<text font-family="Liberation Serif, serif" font-size="12" font-weight="bold" fill="#111" text-anchor="middle" transform="translate(516.7,146.8) rotate(-90)">dpm (<tspan font-size="8.5" dy="-5">32</tspan><tspan dy="5">P)</tspan></text>
<text font-family="Liberation Sans, sans-serif" font-weight="bold" font-size="24" fill="#111" x="1.7" y="17.9">A</text>
<text font-family="Liberation Sans, sans-serif" font-weight="bold" font-size="23" fill="#111" x="41.6" y="323.9">B</text>
<g stroke="#555" stroke-width="0.8" fill="none">
<line x1="105.4" y1="330.3" x2="105.4" y2="540.3"/>
<line x1="101.4" y1="536.3" x2="457.5" y2="536.3"/>
<line x1="101.4" y1="484.8" x2="105.4" y2="484.8"/>
<line x1="101.4" y1="433.3" x2="105.4" y2="433.3"/>
<line x1="101.4" y1="381.8" x2="105.4" y2="381.8"/>
<line x1="101.4" y1="330.3" x2="105.4" y2="330.3"/>
<line x1="281.3" y1="536.3" x2="281.3" y2="539.3"/>
<line x1="457.5" y1="536.3" x2="457.5" y2="539.3"/>
</g>
<line x1="137.3" y1="491.9" x2="137.3" y2="490.9" stroke="#111" stroke-width="1"/>
<line x1="134.3" y1="490.9" x2="140.3" y2="490.9" stroke="#111" stroke-width="1"/>
<rect x="124.0" y="491.9" width="26.6" height="44.4" fill="#fff" stroke="#111" stroke-width="1.25"/>
<line x1="164.8" y1="407.2" x2="164.8" y2="405.8" stroke="#111" stroke-width="1"/>
<line x1="161.8" y1="405.8" x2="167.8" y2="405.8" stroke="#111" stroke-width="1"/>
<rect x="150.6" y="407.2" width="28.4" height="129.1" fill="#d6d6d6" stroke="#111" stroke-width="1.25"/>
<line x1="192.5" y1="474.1" x2="192.5" y2="441.4" stroke="#111" stroke-width="1"/>
<line x1="189.5" y1="441.4" x2="195.5" y2="441.4" stroke="#111" stroke-width="1"/>
<rect x="179.0" y="474.1" width="27.0" height="62.2" fill="url(#pv)" stroke="#111" stroke-width="1.25"/>
<line x1="219.8" y1="475.9" x2="219.8" y2="466.8" stroke="#111" stroke-width="1"/>
<line x1="216.8" y1="466.8" x2="222.8" y2="466.8" stroke="#111" stroke-width="1"/>
<rect x="206.0" y="475.9" width="27.7" height="60.4" fill="url(#ph)" stroke="#111" stroke-width="1.25"/>
<line x1="247.2" y1="508.8" x2="247.2" y2="507.2" stroke="#111" stroke-width="1"/>
<line x1="244.2" y1="507.2" x2="250.2" y2="507.2" stroke="#111" stroke-width="1"/>
<rect x="233.7" y="508.8" width="27.0" height="27.5" fill="url(#pd)" stroke="#111" stroke-width="1.25"/>
<line x1="314.2" y1="508.4" x2="314.2" y2="505.9" stroke="#111" stroke-width="1"/>
<line x1="311.2" y1="505.9" x2="317.2" y2="505.9" stroke="#111" stroke-width="1"/>
<rect x="300.9" y="508.4" width="26.7" height="27.9" fill="#fff" stroke="#111" stroke-width="1.25"/>
<line x1="340.8" y1="440.0" x2="340.8" y2="439.0" stroke="#111" stroke-width="1"/>
<line x1="337.8" y1="439.0" x2="343.8" y2="439.0" stroke="#111" stroke-width="1"/>
<rect x="327.6" y="440.0" width="26.4" height="96.3" fill="#d6d6d6" stroke="#111" stroke-width="1.25"/>
<line x1="367.7" y1="372.7" x2="367.7" y2="350.0" stroke="#111" stroke-width="1"/>
<line x1="364.7" y1="350.0" x2="370.7" y2="350.0" stroke="#111" stroke-width="1"/>
<rect x="354.0" y="372.7" width="27.5" height="163.6" fill="url(#pv)" stroke="#111" stroke-width="1.25"/>
<line x1="395.2" y1="363.3" x2="395.2" y2="339.6" stroke="#111" stroke-width="1"/>
<line x1="392.2" y1="339.6" x2="398.2" y2="339.6" stroke="#111" stroke-width="1"/>
<rect x="381.5" y="363.3" width="27.4" height="173.0" fill="url(#ph)" stroke="#111" stroke-width="1.25"/>
<line x1="422.2" y1="485.4" x2="422.2" y2="483.4" stroke="#111" stroke-width="1"/>
<line x1="419.2" y1="483.4" x2="425.2" y2="483.4" stroke="#111" stroke-width="1"/>
<rect x="408.9" y="485.4" width="26.7" height="50.9" fill="url(#pd)" stroke="#111" stroke-width="1.25"/>
<g font-family="Liberation Serif, serif" font-size="12.5" fill="#222" text-anchor="end">
<text x="94" y="540.5">0</text>
<text x="94" y="489.0">0.002</text>
<text x="94" y="437.5">0.004</text>
<text x="94" y="386.0">0.006</text>
<text x="94" y="334.5">0.008</text>
</g>
<text font-family="Liberation Serif, serif" font-size="13.8" fill="#111" x="193.1" y="559.5" text-anchor="middle">30 seconds</text>
<text font-family="Liberation Serif, serif" font-size="13.7" fill="#111" x="368.8" y="560.0" text-anchor="middle">15 minutes</text>
<text font-family="Liberation Serif, serif" font-size="13.9" fill="#111" text-anchor="middle" transform="translate(53.0,413.7) rotate(-90)">% dpm in PIP<tspan font-size="9" dy="3">3</tspan><tspan dy="-3"> fraction</tspan></text>
</g>
</svg>
</body></html>
